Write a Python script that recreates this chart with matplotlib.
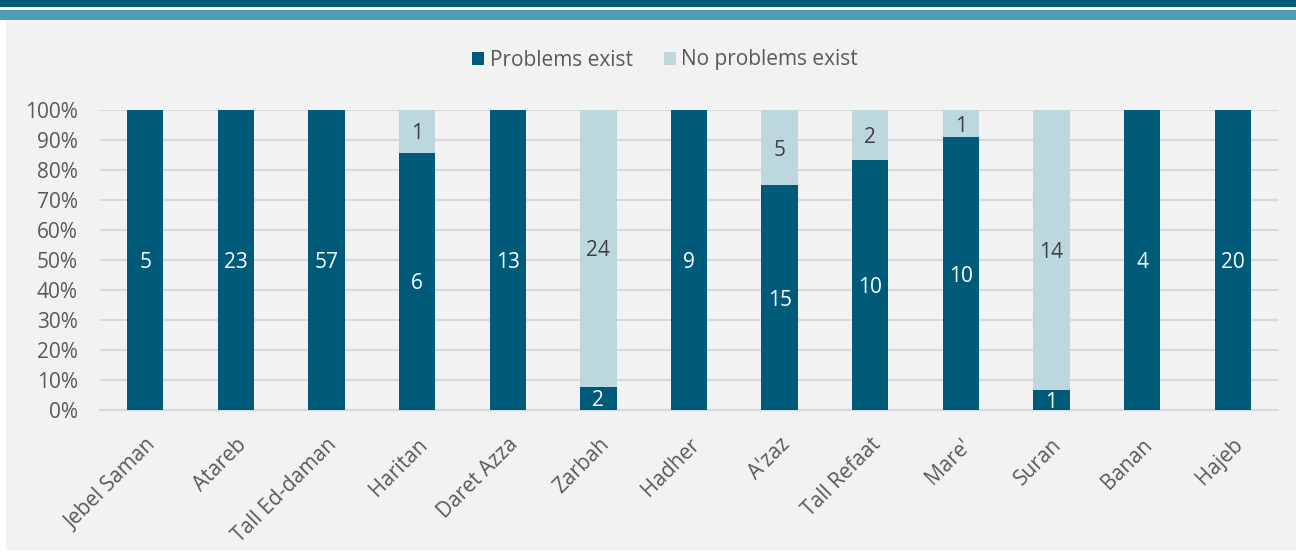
import numpy as np
import matplotlib.pyplot as plt
from matplotlib.patches import Rectangle

plt.rcParams['font.family'] = ['Open Sans', 'DejaVu Sans']

# Number of respondents per district
districts = ["Jebel Saman", "Atareb", "Tall Ed-daman", "Haritan", "Daret Azza",
             "Zarbah", "Hadher", "A'zaz", "Tall Refaat", "Mare'", "Suran",
             "Banan", "Hajeb"]
problems = [5, 23, 57, 6, 13, 2, 9, 15, 10, 10, 1, 4, 20]
no_problems = [0, 0, 0, 1, 0, 24, 0, 5, 2, 1, 14, 0, 0]

dark = "#005a7a"
light = "#bdd7df"
W, H = 1296, 557
fs = 15

fig = plt.figure(figsize=(W / 100, H / 100), dpi=100)
fig.patch.set_facecolor("white")

# header bands and grey panel (pixel units converted to figure fractions)
def band(x0, y0, x1, y1, color):
    fig.patches.append(Rectangle((x0 / W, 1 - y1 / H), (x1 - x0) / W, (y1 - y0) / H,
                                 transform=fig.transFigure, facecolor=color,
                                 edgecolor="none", zorder=-1))

band(0, 0, W, 7, dark)
band(0, 10, W, 20, "#4d9cb3")
band(6, 20, W, 550, "#f2f2f2")

ax = fig.add_axes([100 / W, 1 - 410 / H, 1178 / W, 300 / H])
ax.set_facecolor("none")

p = np.array(problems, dtype=float)
n = np.array(no_problems, dtype=float)
tot = p + n
p_pct = p / tot * 100
n_pct = n / tot * 100
x = np.arange(len(districts))

b1 = ax.bar(x, p_pct, width=0.4, color=dark, label="Problems exist", zorder=3)
b2 = ax.bar(x, n_pct, width=0.4, bottom=p_pct, color=light, label="No problems exist", zorder=3)

for i in range(len(x)):
    if p[i] > 0:
        ax.text(x[i], p_pct[i] / 2, str(problems[i]), ha="center", va="center_baseline",
                color="white", fontsize=fs, zorder=4)
    if n[i] > 0:
        ax.text(x[i], p_pct[i] + n_pct[i] / 2, str(no_problems[i]), ha="center",
                va="center_baseline", color="#404040", fontsize=fs, zorder=4)

ax.set_xlim(-0.5, len(x) - 0.5)
ax.set_ylim(0, 100)
ax.set_yticks(np.arange(0, 101, 10))
ax.set_yticklabels([f"{v}%" for v in range(0, 101, 10)], fontsize=fs, color="#595959")
ax.yaxis.grid(True, color="#d9d9d9", linewidth=1.5, zorder=0)
ax.set_axisbelow(True)
ax.tick_params(axis="both", length=0)
ax.tick_params(axis="y", pad=16)

ax.set_xticks(x)
ax.set_xticklabels(districts, rotation=45, ha="right", rotation_mode="anchor",
                   fontsize=fs, color="#595959")
ax.tick_params(axis="x", pad=17.5)

for s in ["top", "right", "left"]:
    ax.spines[s].set_visible(False)
ax.spines["bottom"].set_color("#d9d9d9")
ax.spines["bottom"].set_linewidth(1.5)

leg = fig.legend(handles=[b1, b2], loc="center", bbox_to_anchor=(665 / W, 1 - 60 / H),
                 ncol=2, frameon=False, fontsize=fs, handlelength=0.6,
                 handleheight=0.6, handletextpad=0.25, columnspacing=1.5)
for t in leg.get_texts():
    t.set_color("#595959")

fig.savefig("out.png", dpi=100)
